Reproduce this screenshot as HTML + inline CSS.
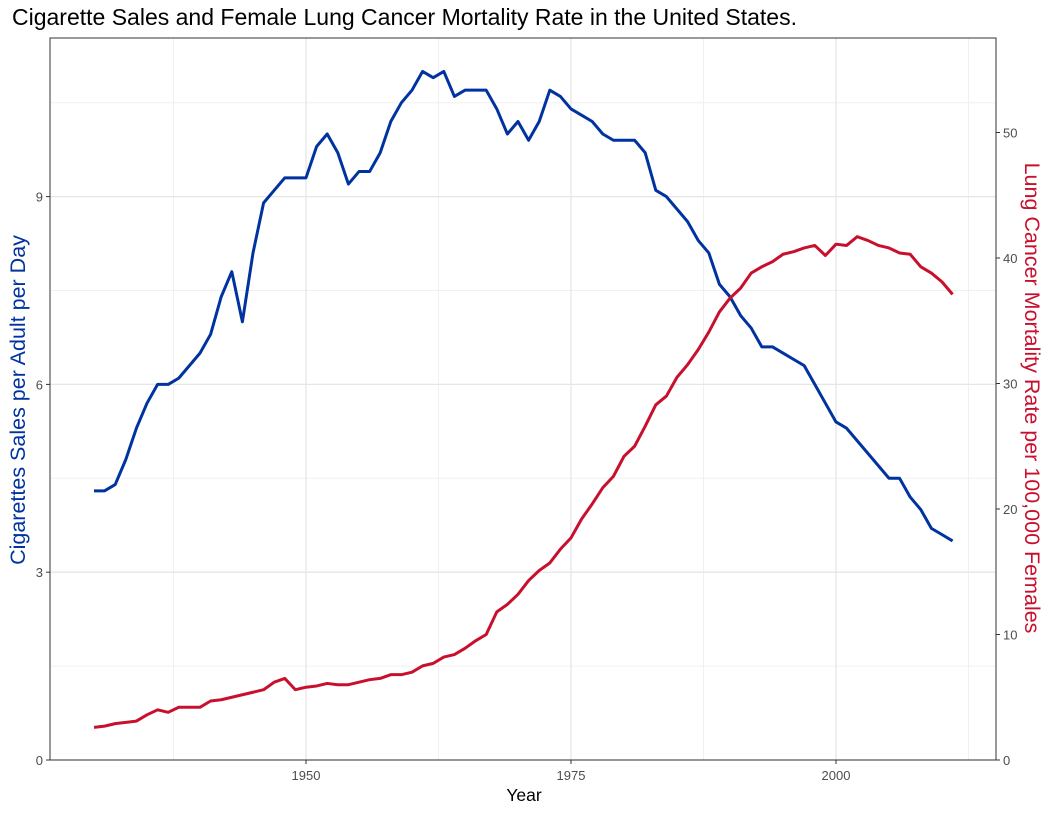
<!DOCTYPE html>
<html><head><meta charset="utf-8"><style>
body{margin:0;background:#fff;font-family:"Liberation Sans",Arial,sans-serif}
svg{display:block}
</style></head><body>
<svg id="chart" width="1055" height="813" xmlns="http://www.w3.org/2000/svg">
<text x="12" y="25" font-size="23" fill="#000">Cigarette Sales and Female Lung Cancer Mortality Rate in the United States.</text>
<g id="grid"></g>
<rect x="50" y="38" width="946" height="722" fill="none" stroke="#333" stroke-width="1"/>
<g id="marks"></g>
<g id="axes"></g>
<text x="524" y="801" font-size="17.5" text-anchor="middle" fill="#000">Year</text>
<text transform="translate(25,400) rotate(-90)" font-size="21.5" text-anchor="middle" fill="#0033a0">Cigarettes Sales per Adult per Day</text>
<text transform="translate(1025,398) rotate(90)" font-size="21.5" text-anchor="middle" fill="#c8102e">Lung Cancer Mortality Rate per 100,000 Females</text>
</svg>
<script>
const years = Array.from({length:82},(_,i)=>1930+i);
const cigSales = [4.3,4.3,4.4,4.8,5.3,5.7,6.0,6.0,6.1,6.3,6.5,6.8,7.4,7.8,7.0,8.1,8.9,9.1,9.3,9.3,9.3,9.8,10.0,9.7,9.2,9.4,9.4,9.7,10.2,10.5,10.7,11.0,10.9,11.0,10.6,10.7,10.7,10.7,10.4,10.0,10.2,9.9,10.2,10.7,10.6,10.4,10.3,10.2,10.0,9.9,9.9,9.9,9.7,9.1,9.0,8.8,8.6,8.3,8.1,7.6,7.4,7.1,6.9,6.6,6.6,6.5,6.4,6.3,6.0,5.7,5.4,5.3,5.1,4.9,4.7,4.5,4.5,4.2,4.0,3.7,3.6,3.5];
const mortality = [2.6,2.7,2.9,3.0,3.1,3.6,4.0,3.8,4.2,4.2,4.2,4.7,4.8,5.0,5.2,5.4,5.6,6.2,6.5,5.6,5.8,5.9,6.1,6.0,6.0,6.2,6.4,6.5,6.8,6.8,7.0,7.5,7.7,8.2,8.4,8.9,9.5,10.0,11.8,12.4,13.2,14.3,15.1,15.7,16.8,17.7,19.2,20.4,21.7,22.6,24.2,25.0,26.6,28.3,29.0,30.5,31.5,32.7,34.1,35.7,36.8,37.6,38.8,39.3,39.7,40.3,40.5,40.8,41.0,40.2,41.1,41.0,41.7,41.4,41.0,40.8,40.4,40.3,39.3,38.8,38.1,37.1];
const xTicks = [1950,1975,2000];
const xMinor = [1937.5,1962.5,1987.5,2012.5];
const yLeftTicks = [0,3,6,9];
const yLeftMinor = [1.5,4.5,7.5,10.5];
const yRightTicks = [0,10,20,30,40,50];

const x = v => 306 + (v-1950)*10.6;
const yL = v => 760 - v*62.6;
const yR = v => 760 - v*12.55;
const NS="http://www.w3.org/2000/svg";
function mk(tag,attrs,parent,text){const e=document.createElementNS(NS,tag);for(const k in attrs)e.setAttribute(k,attrs[k]);if(text!==undefined)e.textContent=text;parent.appendChild(e);return e;}
const grid=document.getElementById('grid'), marks=document.getElementById('marks'), axes=document.getElementById('axes');
xMinor.forEach(v=>{const l=mk('line',{x1:x(v),x2:x(v),y1:38,y2:760,stroke:'#f0f0f0','stroke-width':1},grid);

});
yLeftMinor.forEach(v=>{const l=mk('line',{x1:50,x2:996,y1:yL(v),y2:yL(v),stroke:'#f0f0f0','stroke-width':1},grid);

});
xTicks.forEach(v=>{const l=mk('line',{x1:x(v),x2:x(v),y1:38,y2:760,stroke:'#e6e6e6','stroke-width':1.3},grid);


const t=mk('line',{x1:x(v),x2:x(v),y1:760,y2:764,stroke:'#333'},axes);


const tx=mk('text',{x:x(v),y:780,'font-size':13,'text-anchor':'middle',fill:'#4d4d4d'},axes,v);

});
yLeftTicks.forEach(v=>{const l=mk('line',{x1:50,x2:996,y1:yL(v),y2:yL(v),stroke:'#e6e6e6','stroke-width':1.3},grid);


const t=mk('line',{x1:46,x2:50,y1:yL(v),y2:yL(v),stroke:'#333'},axes);


const tx=mk('text',{x:43,y:yL(v)+5,'font-size':13,'text-anchor':'end',fill:'#4d4d4d'},axes,v);

});
yRightTicks.forEach(v=>{const t=mk('line',{x1:996,x2:1000,y1:yR(v),y2:yR(v),stroke:'#333'},axes);


const tx=mk('text',{x:1003,y:yR(v)+5,'font-size':13,'text-anchor':'start',fill:'#4d4d4d'},axes,v);

});
const p1=mk('polyline',{points:years.map((yr,i)=>x(yr)+','+yL(cigSales[i])).join(' '),fill:'none',stroke:'#0033a0','stroke-width':3,'stroke-linejoin':'round'},marks);


const p2=mk('polyline',{points:years.map((yr,i)=>x(yr)+','+yR(mortality[i])).join(' '),fill:'none',stroke:'#c8102e','stroke-width':3,'stroke-linejoin':'round'},marks);


</script>
</body></html>
